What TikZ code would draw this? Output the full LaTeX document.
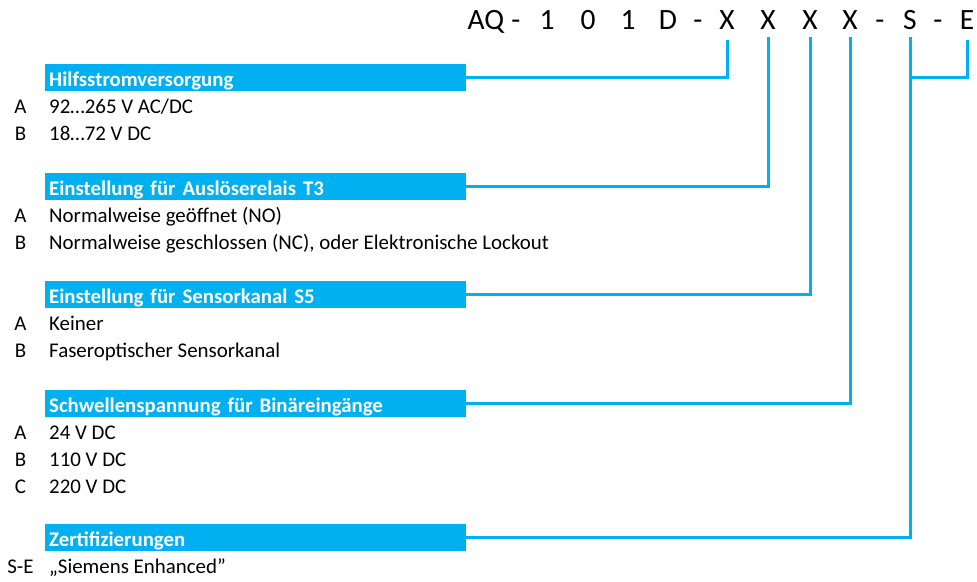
\documentclass[tikz,border=0pt]{standalone}
\usepackage{fontspec}
\setmainfont{Carlito}
\definecolor{sky}{HTML}{00B0F0}
\tikzset{
  bar/.style={fill=sky, text=white, font=\fontsize{20.8}{24}\selectfont\bfseries, anchor=north west,
    minimum height=27pt, text width=413pt, inner xsep=4pt, inner ysep=3pt, text height=19pt, text depth=2pt, align=left},
  item/.style={anchor=base west, inner sep=0pt, font=\fontsize{20.9}{24}\selectfont},
  key/.style={anchor=base, inner sep=0pt, font=\fontsize{20.9}{24}\selectfont},
  code/.style={anchor=base, inner sep=0pt, font=\fontsize{29.5}{34}\selectfont},
  link/.style={draw=sky, line width=3pt}
}
\begin{document}
\begin{tikzpicture}[x=1pt,y=-1pt]
\useasboundingbox (0,0) rectangle (977,581);
% code
\node[code] (cAQ) at (486,29) {AQ};
\node[code] (cd1) at (516,29) {-};
\node[code] (c1a) at (547,29) {1};
\node[code] (c0) at (588,29) {0};
\node[code] (c1b) at (628,29) {1};
\node[code] (cD) at (668,29) {D};
\node[code] (cd2) at (698,29) {-};
\node[code] (x1) at (727,29) {X};
\node[code] (x2) at (768,29) {X};
\node[code] (x3) at (810,29) {X};
\node[code] (x4) at (850,29) {X};
\node[code] (cd3) at (880,29) {-};
\node[code] (cS) at (910,29) {S};
\node[code] (cd4) at (938,29) {-};
\node[code] (cE) at (967,29) {E};
% bars
\node[bar] (b1) at (45,64) {Hilfsstromversorgung};
\node[bar] (b2) at (45,173) {Einstellung für Auslöserelais T3};
\node[bar] (b3) at (45,281) {Einstellung für Sensorkanal S5};
\node[bar] (b4) at (45,390) {Schwellenspannung für Binäreingänge};
\node[bar] (b5) at (45,524) {Zertifizierungen};
% items
\node[key] (k1a) at (20.5,113) {A}; \node[item] (i1a) at (49,113) {92…265 V AC/DC};
\node[key] (k1b) at (20.5,140) {B}; \node[item] (i1b) at (49,140) {18…72 V DC};
\node[key] (k2a) at (20.5,222) {A}; \node[item] (i2a) at (49,222) {Normalweise geöffnet (NO)};
\node[key] (k2b) at (20.5,249) {B}; \node[item] (i2b) at (49,249) {Normalweise geschlossen (NC), oder Elektronische Lockout};
\node[key] (k3a) at (20.5,330) {A}; \node[item] (i3a) at (49,330) {Keiner};
\node[key] (k3b) at (20.5,357) {B}; \node[item] (i3b) at (49,357) {Faseroptischer Sensorkanal};
\node[key] (k4a) at (20.5,439) {A}; \node[item] (i4a) at (49,439) {24 V DC};
\node[key] (k4b) at (20.5,466) {B}; \node[item] (i4b) at (49,466) {110 V DC};
\node[key] (k4c) at (20.5,493) {C}; \node[item] (i4c) at (49,493) {220 V DC};
\node[key] (k5) at (20.5,573) {S-E}; \node[item] (i5) at (49,573) {„Siemens Enhanced\symbol{34}};
% connectors
\coordinate (t1) at (727,40);
\coordinate (t2) at (768,37);
\coordinate (t3) at (810,37);
\coordinate (t4) at (850,37);
\coordinate (t5) at (910,37);
\coordinate (tE) at (967,40);
\draw[link] (b1.east) -| (t1);
\draw[link] (b2.east) -| (t2);
\draw[link] (b3.east) -| (t3);
\draw[link] (b4.east) -| (t4);
\draw[link] (b5.east) -| (t5);
\draw[link] (t5 |- b1.east) -| (tE);
\end{tikzpicture}
\end{document}
